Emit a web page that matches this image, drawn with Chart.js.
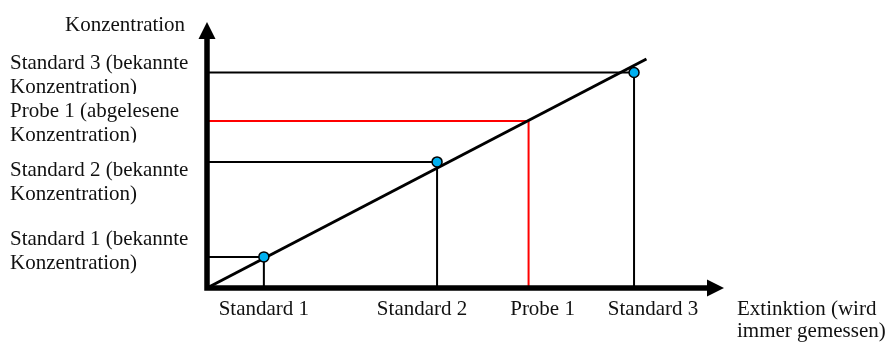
<!DOCTYPE html>
<html lang="de">
<head>
<meta charset="UTF-8">
<title>Kalibriergerade</title>
<script src="https://cdn.jsdelivr.net/npm/chart.js"></script>
<style>
  body { margin: 0; background: #fff; }
  #wrap { width: 890px; height: 343px; position: relative; }
</style>
</head>
<body>
<div id="wrap"><canvas id="calChart"></canvas></div>
<script>
// standards: measured extinction (x) and known concentration (y)
const standardNames = ['Standard 1', 'Standard 2', 'Standard 3'];
const standardExt = [1.1, 4.45, 8.26];
const standardConc = [1.17, 4.74, 8.1];

// sample, concentration
const probeName = 'Probe 1';
const probeExt = 6.22;
const probeConc = 6.28;

// calibration line end points
const lineExt = [0, 8.5];
const lineConc = [0, 8.61];

// labels on the left, top to bottom, and the value each belongs to
const yLabels = [
    ['Standard 3 (bekannte', 'Konzentration)'],
    ['Probe 1 (abgelesene', 'Konzentration)'],
    ['Standard 2 (bekannte', 'Konzentration)'],
    ['Standard 1 (bekannte', 'Konzentration)']
];
const yLabelValues = [standardConc[2], probeConc, standardConc[1], standardConc[0]];
const xLabels = [standardNames[0], standardNames[1], probeName, standardNames[2]];
const xLabelValues = [standardExt[0], standardExt[1], probeExt, standardExt[2]];
const xTitle = ['Extinktion (wird', 'immer gemessen)'];
const yTitle = 'Konzentration';

const FONT = '21px "Liberation Serif", "Times New Roman", serif';
const TEXT = '#111';
// small nudges so the text boxes sit like in the drawing
const yLabelShift = [-4, -4, 14, -12];
const yLabelCut = [true, true, false, false]; // the two upper boxes are cut off at the bottom
const xLabelShift = [0, -15, 14, 19];

function guide(ext, conc, color) {
    return {
        data: [{ x: 0, y: conc }, { x: ext, y: conc }, { x: ext, y: 0 }],
        showLine: true,
        borderColor: color,
        borderWidth: 2,
        pointRadius: 0,
        clip: false
    };
}

const datasets = [{
    data: standardExt.map((e, i) => ({ x: e, y: standardConc[i] })),
    pointRadius: 5,
    backgroundColor: '#00b0f0',
    borderColor: '#000',
    borderWidth: 1.5,
    clip: false
}, {
    data: lineExt.map((e, i) => ({ x: e, y: lineConc[i] })),
    showLine: true,
    borderColor: '#000',
    borderWidth: 3,
    pointRadius: 0,
    clip: false
}];
standardExt.forEach((e, i) => datasets.push(guide(e, standardConc[i], '#000')));
datasets.push(guide(probeExt, probeConc, '#ff0000'));

const arrowAxes = {
    id: 'arrowAxes',
    afterDatasetsDraw(chart) {
        const { ctx, chartArea: a, scales: { x, y } } = chart;
        const x0 = x.getPixelForValue(0);
        const y0 = y.getPixelForValue(0);
        const w = 5.5, head = 17, half = 8.5;
        ctx.save();
        ctx.fillStyle = '#000';
        ctx.strokeStyle = '#000';
        ctx.lineWidth = w;
        ctx.beginPath();
        ctx.moveTo(x0, y0 + w / 2);
        ctx.lineTo(x0, a.top + head - 1);
        ctx.moveTo(x0 - w / 2, y0);
        ctx.lineTo(a.right - head + 1, y0);
        ctx.stroke();
        ctx.beginPath();
        ctx.moveTo(x0, a.top);
        ctx.lineTo(x0 - half, a.top + head);
        ctx.lineTo(x0 + half, a.top + head);
        ctx.closePath();
        ctx.moveTo(a.right, y0);
        ctx.lineTo(a.right - head, y0 - half);
        ctx.lineTo(a.right - head, y0 + half);
        ctx.closePath();
        ctx.fill();

        ctx.font = FONT;
        ctx.fillStyle = TEXT;
        ctx.textBaseline = 'alphabetic';
        ctx.textAlign = 'left';
        ctx.fillText(yTitle, 65, a.top + 9);
        yLabels.forEach((lines, i) => {
            const base = y.getPixelForValue(yLabelValues[i]) + yLabelShift[i];
            ctx.save();
            if (yLabelCut[i]) {
                ctx.beginPath();
                ctx.rect(0, base - 30, x0 - 10, 30 + 24 + 1.5);
                ctx.clip();
            }
            lines.forEach((t, j) => ctx.fillText(t, 10, base + j * 24));
            ctx.restore();
        });
        ctx.fillText(xTitle[0], a.right + 13, y0 + 27);
        ctx.fillText(xTitle[1], a.right + 13, y0 + 49);
        ctx.textAlign = 'center';
        xLabels.forEach((t, i) => {
            ctx.fillText(t, x.getPixelForValue(xLabelValues[i]) + xLabelShift[i], y0 + 27);
        });
        ctx.restore();
    }
};

new Chart(document.getElementById('calChart'), {
    type: 'scatter',
    data: { datasets },
    options: {
        responsive: true,
        maintainAspectRatio: false,
        animation: false,
        events: [],
        layout: { padding: { left: 207, right: 166, top: 22, bottom: 55 } },
        scales: {
            x: { type: 'linear', min: 0, max: 10, display: false },
            y: { type: 'linear', min: 0, max: 10, display: false }
        },
        plugins: {
            legend: { display: false },
            tooltip: { enabled: false }
        }
    },
    plugins: [arrowAxes]
});
</script>
</body>
</html>
